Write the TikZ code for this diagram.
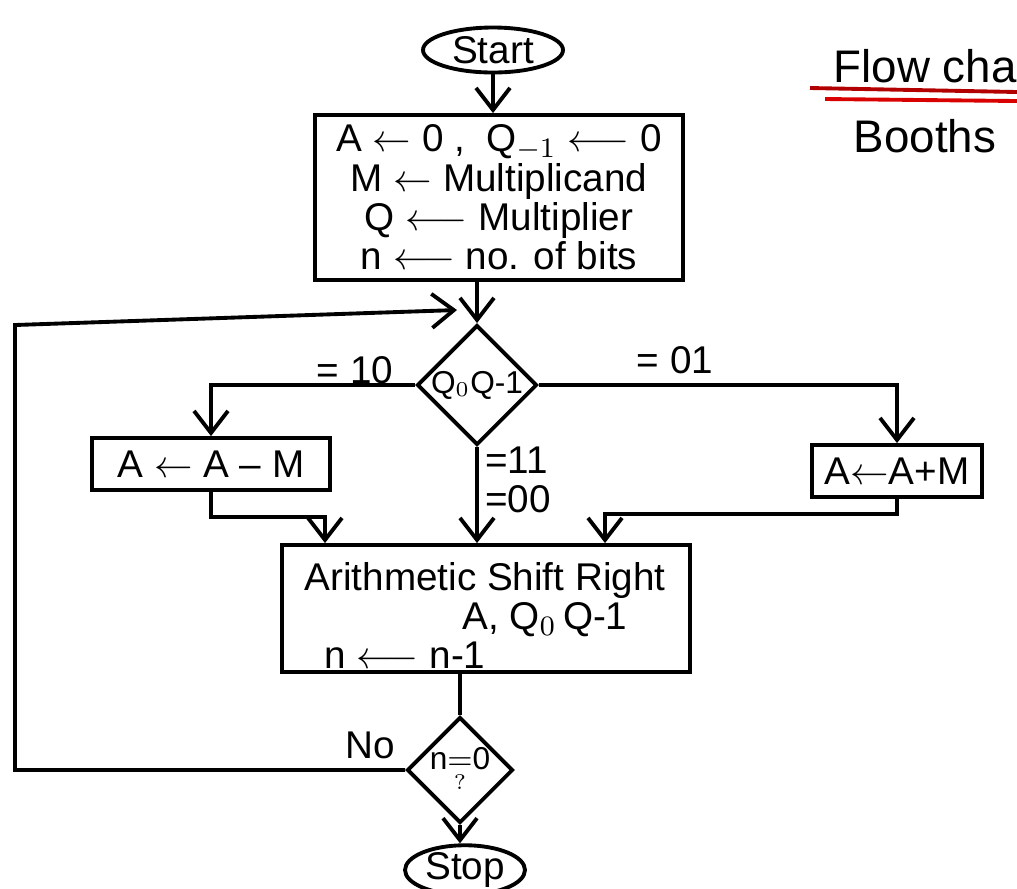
\documentclass[tikz,border=0pt]{standalone}
\usepackage{fontspec}
\setmainfont{Liberation Sans}
\usepackage{amsmath}
\usetikzlibrary{arrows.meta,shapes.geometric}

\begin{document}
\begin{tikzpicture}[line width=1.1pt,>={Straight Barb[length=2.2mm,width=3.4mm]},
  font=\fontsize{11}{11.2}\selectfont,
  term/.style={draw,ellipse,inner sep=0pt},
  proc/.style={draw,rectangle,inner sep=0pt},
  decide/.style={draw,diamond,inner sep=0pt},
  lbl/.style={inner sep=1pt}]
\useasboundingbox (0,0) rectangle (10.17,-8.88);
% Start
\node[term,minimum width=1.40cm,minimum height=0.45cm] (start) at (4.93,-0.50) {Start};
% initialisation
\node[proc,minimum width=3.68cm,minimum height=1.65cm,align=center] (init) at (4.99,-1.975)
  {A $\leftarrow$ 0 ,\; Q$_{-1}$ $\longleftarrow$ 0\\
   M $\leftarrow$ Multiplicand\\
   Q $\longleftarrow$ Multiplier\\
   n $\longleftarrow$ no. of bits};
\draw[->] (start.south) -- (start.south |- init.north);
% test Q0 Q-1
\node[decide,minimum width=1.17cm,minimum height=1.00cm,font=\fontsize{9}{10}\selectfont] (q) at (4.77,-3.85) {Q$_0$Q-1};
\coordinate (join) at (4.77,-3.10);
\draw[->] (init.south -| q.north) -- (q.north);
% A <- A - M
\node[proc,minimum width=2.38cm,minimum height=0.52cm] (sub) at (2.11,-4.64) {A $\leftarrow$ A -- M};
\draw[->] (q.west) -| (sub.north);
\node[lbl] (l10) at (3.55,-3.70) {= 10};
% A <- A + M
\node[proc,minimum width=1.70cm,minimum height=0.52cm] (add) at (8.97,-4.71) {A$\leftarrow$A+M};
\draw[->] (q.east) -| (add.north);
\node[lbl] (l01) at (6.75,-3.60) {= 01};
% arithmetic shift right
\node[proc,minimum width=4.08cm,minimum height=1.27cm] (asr) at (4.86,-6.085) {};
\node[lbl] (asr1) at (4.85,-5.80) {Arithmetic Shift Right};
\node[lbl] (asr2) at (5.45,-6.20) {A, Q$_0$\,Q-1};
\node[lbl] (asr3) at (4.05,-6.55) {n $\longleftarrow$ n-1};
\draw[->] (q.south) -- (q.south |- asr.north);
\node[lbl,align=left] (l11) at (5.18,-4.80) {=11\\=00};
\draw[->] (sub.south) -- ++(0,-0.25) -| ([xshift=-1.61cm]asr.north);
\draw[->] (add.south) -- ++(0,-0.15) -| ([xshift=1.19cm]asr.north);
% test n = 0
\node[decide,minimum width=0.85cm,minimum height=1.00cm,font=\fontsize{9}{10}\selectfont] (n) at (4.60,-7.70) {n$\underset{?}{=}$0};
\draw (n.north |- asr.south) -- (n.north);
\node[lbl] (lno) at (3.70,-7.45) {No};
\draw[->] (n.west) -| (0.15,-3.25) -- ([xshift=-2mm]join);
% Stop
\node[term,minimum width=1.20cm,minimum height=0.40cm] (stop) at (4.65,-8.70) {Stop};
\draw[->] (n.south) -- (n.south |- stop.north);
% title
\node[anchor=west,font=\fontsize{13}{14}\selectfont] (title) at (8.20,-0.66) {Flow cha};
\draw[red!70!black] (8.10,-0.88) -- (10.17,-0.92);
\draw[red!85!black] (8.25,-0.99) -- (10.17,-1.01);
\node[font=\fontsize{13}{14}\selectfont] (booth) at (9.25,-1.36) {Booths};
\end{tikzpicture}
\end{document}
